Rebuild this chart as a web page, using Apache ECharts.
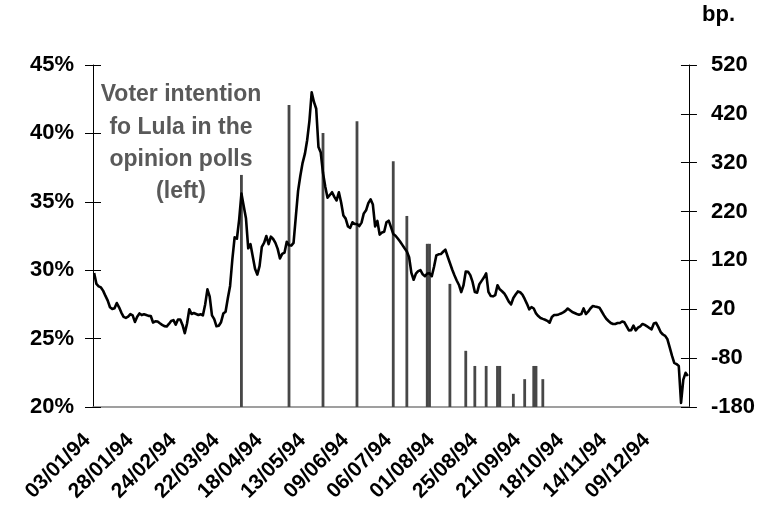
<!DOCTYPE html>
<html>
<head>
<meta charset="utf-8">
<script src="https://cdn.jsdelivr.net/npm/echarts@6/dist/echarts.min.js"></script>
<style>
html,body{margin:0;padding:0;background:#fff;}
#chart{width:758px;height:516px;}
</style>
</head>
<body>
<div id="chart"></div>
<script>
// Tick labels shown on the category axis (every 19th trading day)
const tickLabels = ['03/01/94','28/01/94','24/02/94','22/03/94','18/04/94','13/05/94','09/06/94',
  '06/07/94','01/08/94','25/08/94','21/09/94','18/10/94','14/11/94','09/12/94'];
const tickStep = 19;

// Voter intention for Lula (%), left axis
const voterIntention = [
29.8, 29.0, 28.82, 28.74, 28.49, 28.12, 27.78, 27.29, 27.16, 27.22,
27.6, 27.29, 26.9, 26.59, 26.51, 26.6, 26.79, 26.7, 26.22, 26.6,
26.84, 26.72, 26.78, 26.72, 26.66, 26.65, 26.18, 26.26, 26.25, 26.12,
26.0, 25.91, 25.88, 26.07, 26.29, 26.35, 26.02, 26.4, 26.4, 26.0,
25.4, 26.1, 27.15, 26.8, 26.87, 26.8, 26.73, 26.78, 26.7, 27.5,
28.6, 28.06, 26.7, 26.42, 25.9, 25.94, 26.2, 26.83, 26.96, 27.95,
28.85, 30.8, 32.4, 32.3, 33.7, 35.6, 34.7, 33.8, 31.6, 31.9,
31.0, 30.1, 29.68, 30.3, 31.71, 32.0, 32.5, 31.9, 32.45, 32.28,
32.0, 31.56, 30.86, 31.19, 31.28, 32.08, 31.82, 31.8, 32.0, 33.9,
35.8, 36.9, 37.85, 38.5, 39.5, 40.9, 43.0, 42.3, 41.8, 39.0,
38.6, 37.1, 36.1, 35.3, 35.5, 35.7, 35.36, 35.1, 35.7, 34.95,
34.0, 33.77, 33.2, 33.1, 33.5, 33.38, 33.38, 33.23, 33.48, 34.15,
34.38, 34.9, 35.18, 34.8, 33.2, 33.6, 32.6, 32.76, 32.81, 33.5,
33.62, 33.15, 32.65, 32.52, 32.32, 32.1, 31.85, 31.6, 31.37, 30.95,
29.8, 29.3, 29.75, 29.93, 30.0, 29.7, 29.56, 29.76, 29.78, 29.56,
30.25, 31.08, 31.16, 31.18, 31.35, 31.5, 31.0, 30.53, 30.05, 29.63,
29.25, 28.92, 28.4, 28.9, 29.9, 29.88, 29.64, 29.14, 28.4, 28.36,
28.98, 29.22, 29.46, 29.77, 28.42, 28.12, 28.09, 28.18, 28.9, 28.6,
28.46, 28.3, 28.02, 27.7, 27.5, 27.97, 28.22, 28.45, 28.39, 28.22,
27.9, 27.54, 27.14, 27.3, 27.2, 26.84, 26.65, 26.51, 26.44, 26.38,
26.3, 26.16, 26.58, 26.72, 26.72, 26.77, 26.83, 26.92, 27.03, 27.2,
27.07, 26.94, 26.87, 26.8, 26.75, 26.8, 27.21, 26.8, 26.97, 27.2,
27.38, 27.34, 27.31, 27.26, 26.98, 26.7, 26.45, 26.29, 26.14, 26.07,
26.07, 26.14, 26.14, 26.25, 26.19, 25.9, 25.6, 25.62, 25.95, 25.6,
25.8, 25.9, 26.07, 26.0, 25.9, 25.78, 25.68, 26.1, 26.15, 25.84,
25.48, 25.3, 25.2, 24.95, 24.36, 23.75, 23.23, 23.14, 23.0, 20.3,
22.0, 22.5, 22.27
];

// Spread in basis points (right axis), as thin columns on given trading days
const spreadDayIndex = [65, 86, 101, 116, 132, 138, 147, 148, 157, 164, 168, 173, 178, 179, 185, 190, 194, 195, 198];
const spreadBp       = [295, 438, 381, 405, 323, 211, 154, 154, 72, -65, -96, -96, -96, -96, -153, -123, -96, -96, -123];

// Right-axis settings (bp)
const bpMin = -180, bpMax = 520, bpStep = 100;

// Trading-day categories (weekdays from 03/01/94)
const categories = [];
(function () {
  const d = new Date(1994, 0, 3);
  while (categories.length < voterIntention.length) {
    const wd = d.getDay();
    if (wd !== 0 && wd !== 6) {
      const dd = String(d.getDate()).padStart(2, '0');
      const mm = String(d.getMonth() + 1).padStart(2, '0');
      const yy = String(d.getFullYear()).slice(2);
      categories.push(dd + '/' + mm + '/' + yy);
    }
    d.setDate(d.getDate() + 1);
  }
})();
const labelAt = {};
tickLabels.forEach((t, k) => { if (categories[k * tickStep] !== undefined) labelAt[categories[k * tickStep]] = t; });

// Bars are drawn on a 0-based axis shifted by bpMin, labelled back in bp
const barData = categories.map(() => null);
spreadDayIndex.forEach((idx, k) => { barData[idx] = spreadBp[k] - bpMin; });

const chart = echarts.init(document.getElementById('chart'), null, {renderer: 'canvas'});
const FONT = 'Liberation Sans, Arial, sans-serif';

chart.setOption({
  animation: false,
  backgroundColor: '#ffffff',
  grid: {left: 93, right: 67, top: 65, bottom: 109, containLabel: false},
  xAxis: {
    type: 'category',
    data: categories,
    boundaryGap: true,
    axisLine: {show: true, onZero: false, lineStyle: {color: '#808080', width: 1.5}},
    axisTick: {show: false},
    splitLine: {show: false},
    axisLabel: {
      interval: tickStep - 1,
      rotate: 45,
      margin: 23,
      padding: [0, 10, 0, 0],
      color: '#000',
      fontFamily: FONT,
      fontWeight: 'bold',
      fontSize: 21,
      formatter: v => labelAt[v] || ''
    }
  },
  yAxis: [
    {
      type: 'value', position: 'left', min: 20, max: 45, interval: 5,
      axisLine: {show: true, lineStyle: {color: '#000', width: 1}},
      axisTick: {show: true, inside: false, length: 8, lineStyle: {color: '#000'}},
      splitLine: {show: false},
      axisLabel: {margin: 19, color: '#000', fontFamily: FONT, fontWeight: 'bold', fontSize: 22, formatter: '{value}%'}
    },
    {
      type: 'value', position: 'right', min: 0, max: bpMax - bpMin, interval: bpStep,
      axisLine: {show: true, lineStyle: {color: '#000', width: 1}},
      axisTick: {show: true, inside: false, length: 8, lineStyle: {color: '#000'}},
      splitLine: {show: false},
      axisLabel: {margin: 22, color: '#000', fontFamily: FONT, fontWeight: 'bold', fontSize: 22, formatter: v => String(v + bpMin)}
    },
    {
      type: 'value', position: 'left', min: 20, max: 45, interval: 5,
      axisLine: {show: false},
      axisTick: {show: true, inside: true, length: 8, lineStyle: {color: '#000'}},
      splitLine: {show: false},
      axisLabel: {show: false}
    },
    {
      type: 'value', position: 'right', min: 0, max: bpMax - bpMin, interval: bpStep,
      axisLine: {show: false},
      axisTick: {show: true, inside: true, length: 8, lineStyle: {color: '#000'}},
      splitLine: {show: false},
      axisLabel: {show: false}
    }
  ],
  series: [
    {
      name: 'bp', type: 'bar', yAxisIndex: 1, data: barData,
      barWidth: 2.8,
      itemStyle: {color: '#474747'},
      silent: true
    },
    {
      name: 'Voter intention', type: 'line', yAxisIndex: 0, data: voterIntention,
      showSymbol: false, symbol: 'none', smooth: false,
      lineStyle: {color: '#000', width: 2.6, join: 'round'},
      silent: true
    }
  ],
  graphic: [
    {
      type: 'text', left: 702, top: 4,
      style: {text: 'bp.', fill: '#000', font: 'bold 22px ' + FONT}
    },
    {
      type: 'text', x: 181, y: 79,
      style: {
        text: 'Voter intention\nfo Lula in the\nopinion polls\n(left)',
        fill: '#595959', font: 'bold 23px ' + FONT,
        textAlign: 'center', lineHeight: 32.3
      }
    }
  ]
});
</script>
</body>
</html>
